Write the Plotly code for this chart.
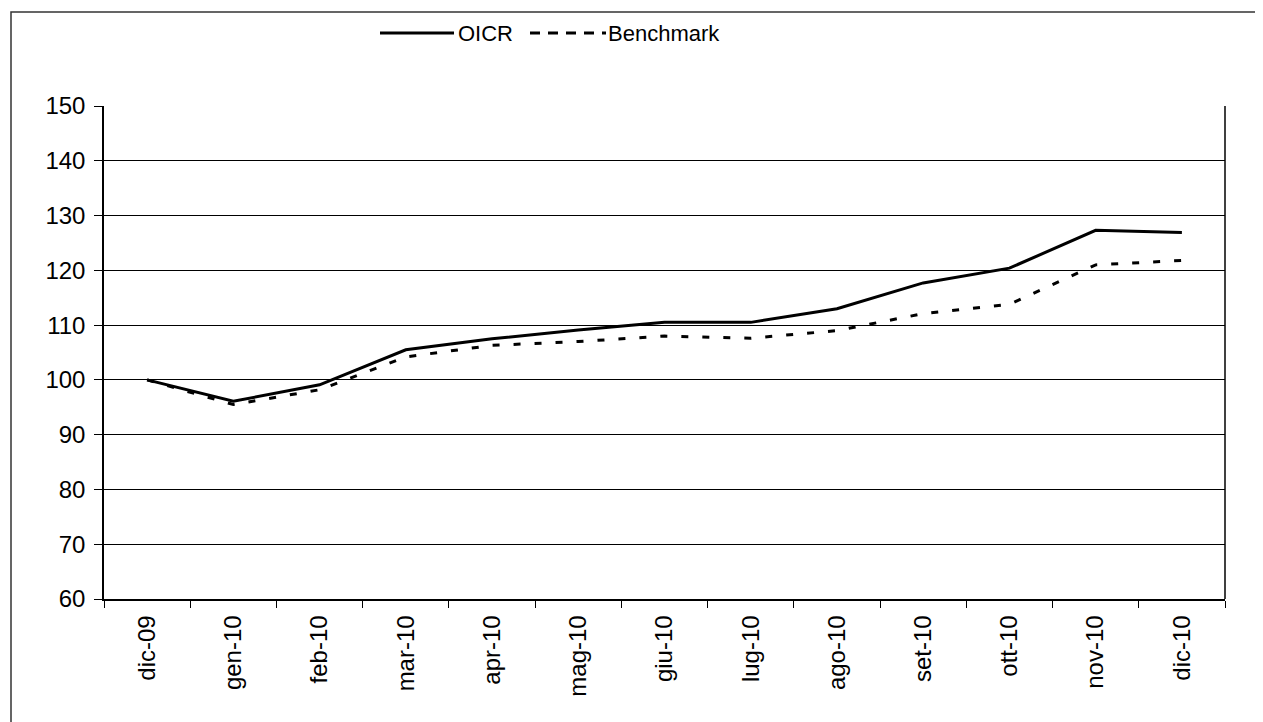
import plotly.graph_objects as go

months = ["dic-09", "gen-10", "feb-10", "mar-10", "apr-10", "mag-10", "giu-10",
          "lug-10", "ago-10", "set-10", "ott-10", "nov-10", "dic-10"]
oicr = [100.0, 96.1, 99.1, 105.5, 107.5, 109.1, 110.5, 110.5, 113.0, 117.7, 120.4, 127.3, 126.9]
benchmark = [100.0, 95.5, 98.2, 104.2, 106.3, 107.0, 108.0, 107.6, 109.0, 112.1, 113.8, 121.0, 121.8]
y_ticks = [60, 70, 80, 90, 100, 110, 120, 130, 140, 150]

FONT = "Liberation Sans, Arial, sans-serif"
OFF = 8  # page body margin
W, H = 1263, 722
L = 104 - OFF
T = 106 - OFF
R = W - (1225 - OFF)
B = H - (599 - OFF)
PW, PH = W - L - R, H - T - B


def px(x):
    return (x - OFF - L) / PW


def py(y):
    return (H - B - (y - OFF)) / PH


fig = go.Figure()
fig.add_trace(go.Scatter(x=months, y=oicr, name="OICR", mode="lines",
                         line=dict(color="black", width=3)))
fig.add_trace(go.Scatter(x=months, y=benchmark, name="Benchmark", mode="lines",
                         line=dict(color="black", width=3, dash="7px,14px")))

fig.update_layout(
    width=W, height=H,
    margin=dict(l=L, r=R, t=T, b=B, autoexpand=False),
    paper_bgcolor="white", plot_bgcolor="white",
    font=dict(family=FONT, color="black"),
    showlegend=False,
    xaxis=dict(type="category", categoryorder="array", categoryarray=months,
               range=[-0.5, 12.5], showgrid=False, showline=True, linecolor="black",
               linewidth=1.5, ticks="outside", tickson="boundaries", ticklen=7,
               tickcolor="black", tickangle=-90, tickfont=dict(size=24, family=FONT),
               ticklabelstandoff=5,
               mirror=False, zeroline=False, automargin=False),
    yaxis=dict(range=[60, 150], tickvals=y_ticks, showgrid=True, gridcolor="black",
               gridwidth=1, showline=True, linecolor="black", linewidth=1.5,
               ticks="outside", ticklen=8, tickcolor="black", ticklabelstandoff=4,
               tickfont=dict(size=24, family=FONT), zeroline=False, automargin=False),
)

# right border of plot area
fig.add_shape(type="line", xref="paper", yref="paper", x0=1, x1=1, y0=0, y1=1,
              line=dict(color="black", width=1.5))
# outer chart border
fig.add_shape(type="rect", xref="paper", yref="paper",
              x0=px(11), x1=px(1290), y0=py(745), y1=py(12),
              line=dict(color="#333333", width=1.5), layer="below")

# legend (drawn manually)
fig.add_shape(type="line", xref="paper", yref="paper",
              x0=px(380), x1=px(454), y0=py(33), y1=py(33),
              line=dict(color="black", width=3))
fig.add_annotation(text="OICR", xref="paper", yref="paper", x=px(456), y=py(33),
                   xanchor="left", yanchor="middle", showarrow=False,
                   font=dict(size=22, family=FONT, color="black"))
fig.add_shape(type="line", xref="paper", yref="paper",
              x0=px(530), x1=px(606), y0=py(33), y1=py(33),
              line=dict(color="black", width=3, dash="10px,8px"))
fig.add_annotation(text="Benchmark", xref="paper", yref="paper", x=px(606), y=py(33),
                   xanchor="left", yanchor="middle", showarrow=False,
                   font=dict(size=22, family=FONT, color="black"))

fig.write_html("out.html")
